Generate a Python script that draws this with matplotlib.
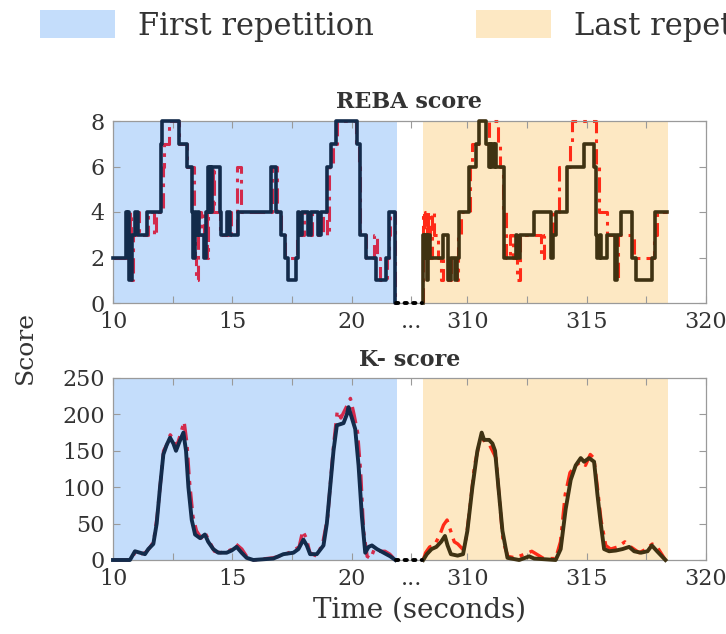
import numpy as np
import matplotlib
matplotlib.use("Agg")
import matplotlib.pyplot as plt
from matplotlib.patches import Patch

plt.rcParams["font.family"] = ["DejaVu Serif"]
TXT = "#333333"
AXC = "#9a9a9a"

# --- data (seconds) ---
# REBA score, first repetition (step changes: time, value)
reba_first_t = [10.0, 10.54, 10.58, 10.62, 10.68, 10.78, 10.92, 11.06, 11.41, 12.0, 12.03, 12.06,
                12.76, 13.11, 13.33, 13.36, 13.42, 13.47, 13.55, 13.62, 13.8, 13.9, 13.98, 14.02,
                14.06, 14.1, 14.14, 14.48, 14.52, 14.76, 14.9, 15.22, 16.64, 16.85, 17.06, 17.2,
                17.34, 17.66, 17.76, 17.8, 17.93, 18.17, 18.28, 18.59, 18.72, 18.97, 19.15, 19.36,
                20.22, 20.33, 20.61, 21.03, 21.45, 21.56, 21.8, 21.84]
reba_first_v = [2, 4, 3, 4, 1, 3, 4, 3, 4, 6, 7, 8,
                7, 6, 4, 2, 4, 3, 4, 3, 2, 4, 6, 4,
                6, 4, 6, 4, 3, 4, 3, 4, 6, 4, 3, 2,
                1, 2, 4, 3, 4, 3, 4, 3, 4, 6, 7, 8,
                7, 3, 2, 1, 2, 4, 0, 0]
reba_first_est_t = [10.0, 10.6, 10.64, 10.7, 10.75, 10.82, 10.95, 11.1, 11.45, 11.72, 11.8, 12.08,
                    12.15, 12.36, 12.78, 13.12, 13.38, 13.42, 13.46, 13.55, 13.62, 13.7, 13.8, 13.92,
                    13.98, 14.18, 14.24, 14.5, 14.8, 14.95, 15.2, 15.35, 16.65, 16.86, 17.05, 17.2,
                    17.7, 17.78, 17.85, 18.0, 18.2, 18.35, 18.6, 18.78, 18.95, 19.05, 19.2, 19.4,
                    20.2, 20.3, 20.35, 20.6, 20.95, 21.05, 21.2, 21.48, 21.55, 21.6, 21.8, 21.84]
reba_first_est_v = [2, 4, 3, 4, 1, 3, 4, 3, 4, 3, 4, 6,
                    7, 8, 7, 6, 4, 2, 1, 3, 4, 3, 4, 2,
                    4, 6, 4, 3, 4, 3, 6, 4, 6, 4, 3, 2,
                    3, 4, 3, 4, 3, 4, 3, 4, 3, 6, 7, 8,
                    7, 6, 3, 2, 3, 2, 1, 2, 3, 4, 0, 0]

# REBA score, last repetition
reba_last_t = [308.12, 308.15, 308.2, 308.24, 308.3, 308.35, 308.42, 308.58, 308.98, 309.17, 309.3,
               309.5, 309.58, 309.66, 310.05, 310.36, 310.5, 310.78, 310.9, 310.95, 311.0, 311.05,
               311.1, 311.15, 311.2, 311.54, 312.03, 312.1, 312.2, 312.8, 313.49, 313.58, 313.7,
               314.19, 314.89, 315.3, 315.38, 315.45, 315.55, 315.62, 315.86, 316.18, 316.28,
               316.42, 316.91, 317.05, 317.75, 317.88, 318.38]
reba_last_v = [0, 3, 2, 3, 1, 3, 2, 2, 3, 1, 2,
               1, 2, 4, 6, 7, 8, 7, 6, 7, 6, 7,
               6, 7, 6, 2, 3, 2, 3, 4, 2, 3, 4,
               6, 7, 6, 3, 2, 3, 2, 3, 1, 3,
               4, 2, 1, 2, 4, 4]
reba_last_est_t = [308.12, 308.15, 308.2, 308.24, 308.3, 308.36, 308.42, 308.5, 308.6, 308.78,
                   308.88, 308.97, 309.2, 309.3, 309.55, 309.62, 309.75, 310.1, 310.18, 310.9,
                   311.28, 311.35, 311.5, 311.6, 311.8, 311.9, 312.1, 312.2, 313.1, 313.2, 313.6,
                   313.85, 314.3, 314.4, 315.4, 315.5, 315.85, 316.2, 316.3, 317.0, 317.8, 317.95,
                   318.38]
reba_last_est_v = [0, 4, 3, 4, 2, 4, 2, 4, 3, 2,
                   1, 2, 1, 2, 1, 3, 4, 6, 7, 8,
                   7, 6, 4, 2, 3, 2, 1, 3, 2, 3, 4,
                   6, 7, 8, 6, 4, 3, 1, 3, 2, 3, 4,
                   4]

# K- score, first repetition
k_first_t = [10.0, 10.71, 10.92, 11.13, 11.34, 11.48, 11.69, 11.83, 11.97, 12.11, 12.25, 12.39,
             12.53, 12.64, 12.78, 12.95, 13.06, 13.16, 13.3, 13.44, 13.65, 13.85, 13.99, 14.2,
             14.41, 14.76, 14.97, 15.18, 15.39, 15.6, 15.88, 16.72, 17.14, 17.56, 17.77, 17.98,
             18.12, 18.26, 18.54, 18.82, 18.96, 19.1, 19.24, 19.38, 19.66, 19.8, 19.87, 20.01,
             20.15, 20.29, 20.43, 20.57, 20.71, 20.85, 21.06, 21.34, 21.62, 21.83]
k_first_v = [0, 0, 12, 10, 8, 15, 22, 50, 100, 145, 158, 168,
             160, 150, 162, 175, 150, 100, 55, 35, 30, 35, 25, 15,
             10, 10, 13, 18, 10, 3, 0, 2, 8, 10, 15, 28,
             20, 8, 8, 20, 50, 100, 150, 185, 188, 200, 210, 195,
             180, 130, 60, 10, 18, 20, 15, 10, 5, 0]
k_first_est_t = [10.0, 10.75, 10.95, 11.15, 11.35, 11.5, 11.7, 11.85, 12.0, 12.12, 12.28, 12.4,
                 12.55, 12.66, 12.8, 12.98, 13.1, 13.2, 13.35, 13.5, 13.7, 13.85, 14.0, 14.25,
                 14.5, 14.8, 15.0, 15.15, 15.4, 15.6, 15.9, 16.7, 17.1, 17.5, 17.8, 17.95,
                 18.1, 18.25, 18.55, 18.8, 19.0, 19.12, 19.25, 19.4, 19.55, 19.7, 19.85, 19.95,
                 20.1, 20.25, 20.38, 20.5, 20.65, 20.8, 20.95, 21.1, 21.4, 21.6, 21.83]
k_first_est_v = [0, 0, 12, 8, 10, 15, 25, 60, 110, 150, 160, 172,
                 165, 155, 170, 190, 160, 110, 60, 40, 30, 38, 28, 12,
                 10, 12, 15, 22, 15, 5, 0, 3, 6, 12, 18, 40,
                 30, 10, 5, 25, 60, 110, 160, 205, 195, 205, 215, 222,
                 200, 175, 120, 40, 5, 2, 15, 12, 12, 8, 0]

# K- score, last repetition
k_last_t = [308.15, 308.3, 308.5, 308.7, 308.9, 309.06, 309.17, 309.31, 309.59, 309.82, 310.0,
            310.21, 310.42, 310.6, 310.7, 310.91, 311.05, 311.16, 311.3, 311.47, 311.68, 312.17,
            312.59, 312.8, 313.7, 313.91, 314.12, 314.33, 314.54, 314.75, 314.89, 315.1, 315.31,
            315.45, 315.59, 315.73, 315.94, 316.22, 316.5, 316.78, 316.99, 317.27, 317.55, 317.73,
            317.95, 318.3]
k_last_v = [0, 8, 15, 18, 25, 33, 20, 8, 6, 8, 40,
            100, 150, 175, 165, 165, 160, 150, 100, 40, 3, 0,
            5, 2, 0, 15, 70, 110, 130, 140, 135, 140, 135,
            90, 50, 15, 12, 13, 15, 18, 12, 10, 12, 20,
            12, 0]
k_last_est_t = [308.15, 308.25, 308.42, 308.62, 308.85, 309.0, 309.15, 309.3, 309.45, 309.6, 309.8,
                309.95, 310.1, 310.3, 310.5, 310.7, 310.9, 311.05, 311.2, 311.35, 311.5, 311.7,
                312.0, 312.4, 312.7, 312.9, 313.2, 313.7, 313.9, 314.1, 314.3, 314.55, 314.75,
                314.95, 315.15, 315.3, 315.45, 315.6, 315.8, 316.0, 316.3, 316.6, 316.85, 317.2,
                317.5, 317.75, 317.95, 318.3]
k_last_est_v = [0, 10, 18, 20, 35, 48, 55, 40, 25, 22, 15,
                30, 70, 130, 160, 165, 160, 150, 140, 80, 25, 5,
                3, 8, 12, 8, 2, 2, 25, 90, 120, 130, 135,
                130, 145, 140, 100, 55, 20, 15, 18, 25, 18, 10,
                15, 22, 18, 0]

first_span = (10.0, 21.9)
last_span = (308.12, 318.42)
gap = (21.84, 308.1)

OFFSET = 285.15  # time shift for the last repetition on the shared axis
tick_times = [10, 12.5, 15, 17.5, 20, 22.5, 310, 312.5, 315, 317.5, 320]
tick_labels = ["10", "", "15", "", "20", "...", "310", "", "315", "", "320"]

C_BLUE_BG = "#c4ddfb"
C_ORANGE_BG = "#fde8c3"
C_NAVY = "#132b4b"
C_CRIMSON = "#d32a4c"
C_BROWN = "#3f3212"
C_RED = "#ff2a17"
DASH = (0, (5, 2, 1.2, 2))


def px(t):
    t = np.asarray(t, dtype=float)
    return np.where(t > 100, t - OFFSET, t)


fig = plt.figure(figsize=(7.26, 6.34), dpi=100)
ax1 = fig.add_axes([113 / 726, 1 - 303 / 634, 593 / 726, 182 / 634])
ax2 = fig.add_axes([113 / 726, 1 - 560 / 634, 593 / 726, 182 / 634])

panels = [
    (ax1, "REBA score", True, reba_first_t, reba_first_v, reba_first_est_t, reba_first_est_v,
     reba_last_t, reba_last_v, reba_last_est_t, reba_last_est_v, 8, [0, 2, 4, 6, 8]),
    (ax2, "K- score", False, k_first_t, k_first_v, k_first_est_t, k_first_est_v,
     k_last_t, k_last_v, k_last_est_t, k_last_est_v, 250, [0, 50, 100, 150, 200, 250]),
]

for (ax, title, is_step, ft, fv, fet, fev, lt, lv, let_, lev, ymax, yticks) in panels:
    ax.axvspan(px(first_span[0]), px(first_span[1]), color=C_BLUE_BG, lw=0, zorder=0)
    ax.axvspan(px(last_span[0]), px(last_span[1]), color=C_ORANGE_BG, lw=0, zorder=0)

    if is_step:
        ax.step(px(fet), fev, where="post", color=C_CRIMSON, lw=2.2, ls=DASH, clip_on=False, zorder=2)
        ax.step(px(ft), fv, where="post", color=C_NAVY, lw=2.6, clip_on=False, zorder=3)
        ax.step(px(let_), lev, where="post", color=C_RED, lw=2.2, ls=DASH, clip_on=False, zorder=2)
        ax.step(px(lt), lv, where="post", color=C_BROWN, lw=2.6, clip_on=False, zorder=3)
    else:
        ax.plot(px(fet), fev, color=C_CRIMSON, lw=2.4, ls=DASH, clip_on=False, zorder=2)
        ax.plot(px(ft), fv, color=C_NAVY, lw=2.8, clip_on=False, zorder=3)
        ax.plot(px(let_), lev, color=C_RED, lw=2.4, ls=DASH, clip_on=False, zorder=2)
        ax.plot(px(lt), lv, color=C_BROWN, lw=2.8, clip_on=False, zorder=3)

    # dotted connector across the time break
    ax.plot(px(list(gap)), [0, 0], color="black", lw=2.8, ls=(0, (0.6, 1.6)),
            dash_capstyle="round", clip_on=False, zorder=4)

    ax.set_xlim(10, 320 - OFFSET)
    ax.set_ylim(0, ymax)
    ax.set_yticks(yticks)
    ax.set_xticks(px(tick_times))
    ax.set_xticklabels(tick_labels)
    ax.tick_params(direction="in", length=5, width=0.8, colors=AXC, labelcolor=TXT,
                   labelsize=16, top=True, right=True, pad=6)
    for s in ax.spines.values():
        s.set_color(AXC)
        s.set_linewidth(0.9)
    ax.set_title(title, fontsize=16, fontweight="bold", color=TXT, pad=9)

fig.text(25 / 726, 1 - 347 / 634, "Score", rotation=90, ha="center", va="center",
         fontsize=18, color=TXT)
fig.text(420 / 726, 1 - 610 / 634, "Time (seconds)", ha="center", va="center",
         fontsize=20, color=TXT)

handles = [Patch(facecolor=C_BLUE_BG, edgecolor="none"),
           Patch(facecolor=C_ORANGE_BG, edgecolor="none")]
fig.legend(handles, ["First repetition", "Last repetition"], loc="upper left",
           bbox_to_anchor=(40 / 726, 1 - 10 / 634), ncol=2, frameon=False, fontsize=22,
           handlelength=2.45, handleheight=1.05, handletextpad=0.75, columnspacing=3.35,
           borderaxespad=0, borderpad=0, labelcolor=TXT)

fig.savefig("out.png", dpi=100)
